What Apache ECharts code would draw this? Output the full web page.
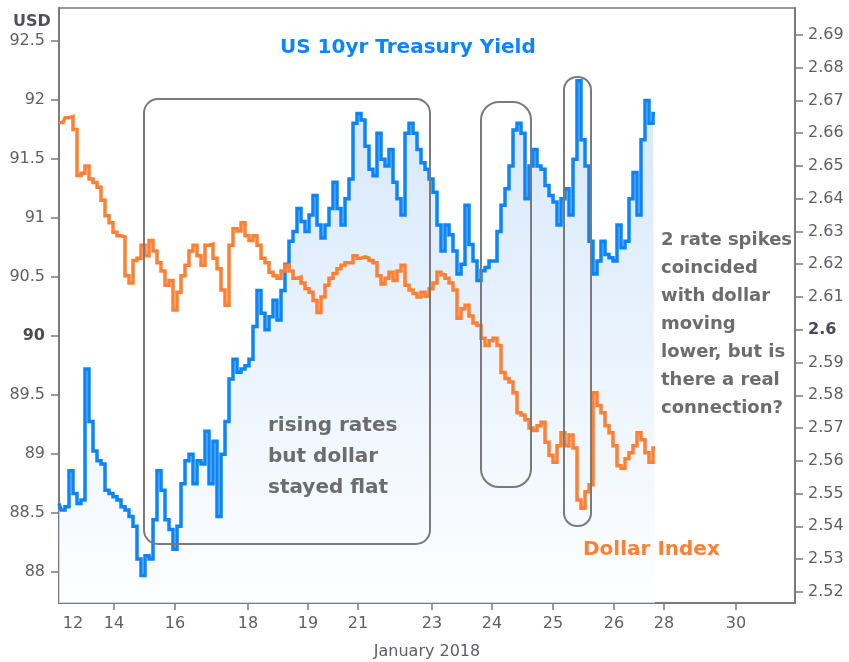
<!DOCTYPE html>
<html>
<head>
<meta charset="utf-8">
<script src="https://cdn.jsdelivr.net/npm/echarts@6/dist/echarts.min.js"></script>
<style>
  html, body { margin: 0; padding: 0; background: #ffffff; }
  #chart { width: 849px; height: 662px; }
</style>
</head>
<body>
<div id="chart"></div>
<script>
// ---- Data (sampled along the trading-time axis, one value per sample) ----
const dollarIndex = [
  91.81, 91.81, 91.85, 91.86, 91.75, 91.36, 91.38, 91.44, 91.33, 91.30,
  91.26, 91.15, 91.02, 90.96, 90.88, 90.85, 90.84, 90.51, 90.45, 90.64,
  90.66, 90.77, 90.68, 90.81, 90.72, 90.62, 90.55, 90.43, 90.47, 90.22,
  90.37, 90.51, 90.60, 90.72, 90.77, 90.68, 90.60, 90.77, 90.78, 90.66,
  90.57, 90.39, 90.26, 90.77, 90.91, 90.89, 90.96, 90.85, 90.81, 90.85,
  90.77, 90.66, 90.62, 90.54, 90.51, 90.49, 90.55, 90.60, 90.55, 90.49,
  90.50, 90.45, 90.40, 90.37, 90.30, 90.20, 90.33, 90.43, 90.49, 90.53,
  90.57, 90.60, 90.62, 90.62, 90.68, 90.66, 90.67, 90.66, 90.64, 90.62,
  90.51, 90.44, 90.49, 90.54, 90.47, 90.55, 90.60, 90.43, 90.39, 90.36,
  90.33, 90.37, 90.34, 90.40, 90.45, 90.54, 90.52, 90.49, 90.45, 90.39,
  90.15, 90.23, 90.26, 90.17, 90.11, 90.09, 89.98, 89.92, 89.96, 89.98,
  89.92, 89.69, 89.64, 89.61, 89.52, 89.35, 89.33, 89.29, 89.22, 89.20,
  89.24, 89.27, 89.10, 88.99, 88.93, 89.07, 89.18, 89.07, 89.16, 89.05,
  88.61, 88.54, 88.68, 88.74, 89.52, 89.41, 89.35, 89.24, 89.18, 89.07,
  88.90, 88.88, 88.96, 89.01, 89.07, 89.18, 89.12, 89.01, 88.93, 89.05
];
const treasuryYield = [
  2.547, 2.545, 2.546, 2.557, 2.550, 2.547, 2.548, 2.588, 2.572, 2.563,
  2.560, 2.559, 2.551, 2.550, 2.549, 2.548, 2.546, 2.545, 2.543, 2.540,
  2.530, 2.525, 2.531, 2.530, 2.542, 2.557, 2.551, 2.542, 2.539, 2.533,
  2.540, 2.553, 2.560, 2.562, 2.553, 2.560, 2.559, 2.569, 2.553, 2.566,
  2.543, 2.562, 2.572, 2.585, 2.591, 2.587, 2.588, 2.589, 2.591, 2.601,
  2.612, 2.605, 2.600, 2.604, 2.609, 2.603, 2.612, 2.620, 2.627, 2.630,
  2.637, 2.633, 2.630, 2.635, 2.641, 2.632, 2.628, 2.632, 2.637, 2.645,
  2.637, 2.632, 2.640, 2.646, 2.663, 2.666, 2.664, 2.656, 2.649, 2.647,
  2.660, 2.652, 2.650, 2.655, 2.645, 2.640, 2.635, 2.660, 2.663, 2.660,
  2.655, 2.651, 2.649, 2.646, 2.642, 2.632, 2.624, 2.632, 2.629, 2.624,
  2.617, 2.620, 2.638, 2.626, 2.621, 2.615, 2.618, 2.619, 2.621, 2.621,
  2.630, 2.638, 2.643, 2.650, 2.661, 2.663, 2.660, 2.640, 2.650, 2.655,
  2.650, 2.649, 2.644, 2.641, 2.639, 2.632, 2.640, 2.643, 2.635, 2.652,
  2.676, 2.658, 2.650, 2.627, 2.617, 2.621, 2.627, 2.623, 2.622, 2.621,
  2.632, 2.625, 2.627, 2.640, 2.648, 2.635, 2.658, 2.670, 2.663, 2.666
];
// Day labels on the compressed trading-time axis and where they fall (sample index)
const dayLabels = ['12', '14', '16', '18', '19', '21', '23', '24', '25', '26', '28', '30'];
const dayLabelPos = [3.5, 13.75, 29, 47.25, 62.25, 74.75, 93.25, 108.25, 123.5, 138.75, 151.25, 169.25];
const usdTicks = [88, 88.5, 89, 89.5, 90, 90.5, 91, 91.5, 92, 92.5];
const yieldTicks = [2.52, 2.53, 2.54, 2.55, 2.56, 2.57, 2.58, 2.59, 2.60, 2.61, 2.62, 2.63, 2.64, 2.65, 2.66, 2.67, 2.68, 2.69];

const FONT = 'DejaVu Sans';
const LABEL_COLOR = '#5e5e66';
const AXIS_COLOR = '#7a7a7a';
const BLUE = '#0a84ff';
const ORANGE = '#ff7f33';
const NOTE = '#6c6c6c';

const chart = echarts.init(document.getElementById('chart'), null, { renderer: 'canvas' });

const labelMap = {};
dayLabelPos.forEach((p, i) => { labelMap[p] = dayLabels[i]; });

const option = {
  animation: false,
  backgroundColor: '#ffffff',
  grid: {
    left: 59, right: 54, top: 8, bottom: 59,
    show: true, borderColor: AXIS_COLOR, borderWidth: 1.5, backgroundColor: 'transparent'
  },
  xAxis: {
    type: 'value',
    min: 0, max: 184,
    axisLine: { show: true, lineStyle: { color: AXIS_COLOR, width: 2 } },
    axisTick: { show: true, length: 7, customValues: dayLabelPos.slice(1), lineStyle: { color: AXIS_COLOR, width: 1.5 } },
    axisLabel: {
      customValues: dayLabelPos,
      formatter: v => labelMap[v] !== undefined ? labelMap[v] : '',
      color: LABEL_COLOR, fontFamily: FONT, fontSize: 16, margin: 13
    },
    splitLine: { show: false }
  },
  yAxis: [
    {
      type: 'value', position: 'left',
      min: 87.737, max: 92.78,
      axisLine: { show: true, lineStyle: { color: AXIS_COLOR, width: 2 } },
      axisTick: { show: true, length: 8, customValues: usdTicks, lineStyle: { color: AXIS_COLOR, width: 1.5 } },
      axisLabel: {
        customValues: usdTicks,
        formatter: v => {
          const s = String(Number(v.toFixed(1)));
          return Math.abs(v - 90) < 1e-6 ? '{b|' + s + '}' : s;
        },
        rich: { b: { fontWeight: 'bold', color: '#4a4a52', fontFamily: FONT, fontSize: 16 } },
        color: LABEL_COLOR, fontFamily: FONT, fontSize: 16, margin: 14
      },
      splitLine: { show: false }
    },
    {
      type: 'value', position: 'right',
      min: 2.5166, max: 2.6982,
      axisLine: { show: true, lineStyle: { color: AXIS_COLOR, width: 2 } },
      axisTick: { show: true, length: 8, customValues: yieldTicks, lineStyle: { color: AXIS_COLOR, width: 1.5 } },
      axisLabel: {
        customValues: yieldTicks,
        formatter: v => {
          const s = String(Number(v.toFixed(2)));
          return Math.abs(v - 2.6) < 1e-6 ? '{b|' + s + '}' : s;
        },
        rich: { b: { fontWeight: 'bold', color: '#4a4a52', fontFamily: FONT, fontSize: 16 } },
        color: LABEL_COLOR, fontFamily: FONT, fontSize: 16, margin: 13
      },
      splitLine: { show: false }
    }
  ],
  series: [
    {
      name: 'US 10yr Treasury Yield',
      type: 'line',
      yAxisIndex: 1,
      step: 'middle',
      data: treasuryYield.map((v, i) => [i, v]),
      showSymbol: false,
      lineStyle: { color: BLUE, width: 3.5, join: 'miter' },
      itemStyle: { color: BLUE },
      areaStyle: {
        origin: 'start',
        color: {
          type: 'linear', global: true, x: 0, y: 8, x2: 0, y2: 603,
          colorStops: [
            { offset: 0, color: '#bcd9f8' },
            { offset: 0.5, color: '#dcebfc' },
            { offset: 1, color: '#fdfeff' }
          ]
        }
      },
      z: 2
    },
    {
      name: 'Dollar Index',
      type: 'line',
      yAxisIndex: 0,
      step: 'middle',
      data: dollarIndex.map((v, i) => [i, v]),
      showSymbol: false,
      lineStyle: { color: ORANGE, width: 3.5, join: 'miter' },
      itemStyle: { color: ORANGE },
      z: 3
    }
  ],
  graphic: [
    { type: 'text', left: 13, top: 14, style: { text: 'USD', fill: '#50505a', font: 'bold 16px "DejaVu Sans"' } },
    { type: 'text', x: 280, y: 48, style: { text: 'US 10yr Treasury Yield', fill: BLUE, font: 'bold 20px "DejaVu Sans"', textVerticalAlign: 'middle' }, z: 10 },
    { type: 'text', x: 583, y: 550, style: { text: 'Dollar Index', fill: ORANGE, font: 'bold 20px "DejaVu Sans"', textVerticalAlign: 'middle' }, z: 10 },
    { type: 'text', x: 268, y: 410, style: { text: 'rising rates\nbut dollar\nstayed flat', fill: NOTE, font: 'bold 20px "DejaVu Sans"', lineHeight: 31 }, z: 10 },
    { type: 'text', x: 661, y: 226, style: { text: '2 rate spikes\ncoincided\nwith dollar\nmoving\nlower, but is\nthere a real\nconnection?', fill: NOTE, font: 'bold 18px "DejaVu Sans"', lineHeight: 28 }, z: 10 },
    { type: 'text', x: 427, y: 652, style: { text: 'January 2018', fill: LABEL_COLOR, font: '16px "DejaVu Sans"', textAlign: 'center', textVerticalAlign: 'middle' } },
    { type: 'rect', shape: { x: 144, y: 99, width: 286, height: 445, r: 14 }, style: { fill: 'none', stroke: '#7a7a7a', lineWidth: 2 }, z: 20 },
    { type: 'rect', shape: { x: 481, y: 102, width: 50, height: 385, r: 18 }, style: { fill: 'none', stroke: '#7a7a7a', lineWidth: 2 }, z: 20 },
    { type: 'rect', shape: { x: 564, y: 77, width: 27, height: 449, r: 13 }, style: { fill: 'none', stroke: '#7a7a7a', lineWidth: 2 }, z: 20 }
  ]
};

chart.setOption(option);
</script>
</body>
</html>
